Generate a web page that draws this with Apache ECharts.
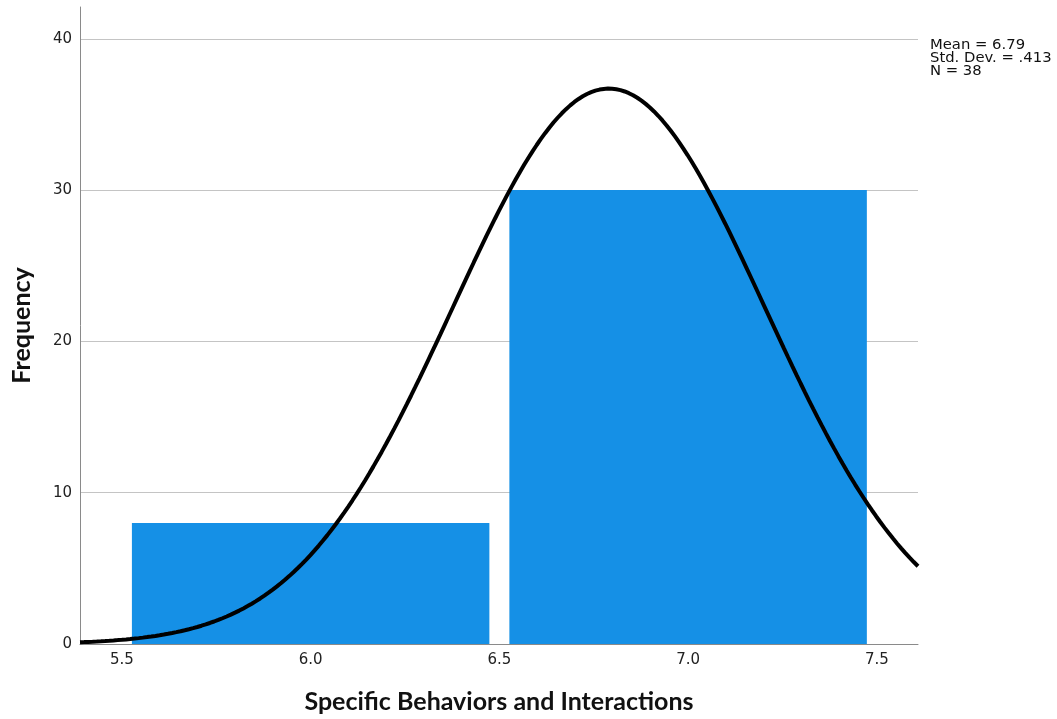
<!DOCTYPE html>
<html>
<head>
<meta charset="utf-8">
<script src="https://cdn.jsdelivr.net/npm/echarts@6/dist/echarts.min.js"></script>
<style>
  html, body { margin: 0; padding: 0; background: #fff; }
  #chart { width: 1057px; height: 719px; }
</style>
</head>
<body>
<div id="chart"></div>
<script>
// Histogram bins: [lower edge, upper edge]
const binEdges = [[5.5, 6.5], [6.5, 7.5]];
const binCounts = [8, 30];

// Summary statistics shown in the corner and used for the normal curve
const statMean = 6.79;
const statSD = 0.413;
const statN = 38;

const xTicks = [5.5, 6.0, 6.5, 7.0, 7.5];
const yTicks = [0, 10, 20, 30, 40];
const xRange = [5.389, 7.609];
const yRange = [0, 42.1];

// Fitted normal curve scaled to counts (N * bin width * density)
const binWidth = binEdges[0][1] - binEdges[0][0];
const curve = [];
const steps = 200;
for (let i = 0; i <= steps; i++) {
  const x = xRange[0] + (xRange[1] - xRange[0]) * i / steps;
  const z = (x - statMean) / statSD;
  const y = statN * binWidth * Math.exp(-0.5 * z * z) / (statSD * Math.sqrt(2 * Math.PI));
  curve.push([x, y]);
}

const barData = binEdges.map((e, i) => [e[0], e[1], binCounts[i]]);

const chart = echarts.init(document.getElementById('chart'));
const tickFont = '"DejaVu Sans", sans-serif';
const titleFont = 'Lato, "Open Sans", sans-serif';

chart.setOption({
  animation: false,
  backgroundColor: '#ffffff',
  grid: { left: 80, right: 139, top: 7, bottom: 75 },
  xAxis: {
    type: 'value',
    min: xRange[0],
    max: xRange[1],
    name: 'Specific Behaviors and Interactions',
    nameLocation: 'middle',
    nameGap: 45,
    nameTextStyle: { fontFamily: titleFont, fontWeight: 'bold', fontSize: 25, color: '#111' },
    axisLine: { show: true, lineStyle: { color: '#8a8a8a', width: 1 } },
    axisTick: { show: false },
    splitLine: { show: false },
    axisLabel: {
      customValues: xTicks,
      formatter: v => v.toFixed(1),
      fontFamily: tickFont,
      fontSize: 15,
      color: '#222',
      margin: 9
    }
  },
  yAxis: {
    type: 'value',
    min: yRange[0],
    max: yRange[1],
    interval: 10,
    name: 'Frequency',
    nameLocation: 'middle',
    nameGap: 46,
    nameRotate: 90,
    nameTextStyle: { fontFamily: titleFont, fontWeight: 'bold', fontSize: 25, color: '#111' },
    axisLine: { show: true, lineStyle: { color: '#8a8a8a', width: 1 } },
    axisTick: { show: false },
    splitLine: {
      show: true,
      showMinLine: false,
      showMaxLine: false,
      lineStyle: { color: '#c4c4c4', type: 'solid', width: 1 }
    },
    axisLabel: {
      showMaxLabel: false,
      fontFamily: tickFont,
      fontSize: 15,
      color: '#222',
      margin: 8
    }
  },
  graphic: [{
    type: 'text',
    left: 930,
    top: 38,
    style: {
      text: 'Mean = ' + statMean.toFixed(2) + '\nStd. Dev. = ' + statSD.toFixed(3).replace(/^0/, '') + '\nN = ' + statN,
      font: '14.8px "DejaVu Sans", sans-serif',
      lineHeight: 12.6,
      fill: '#111'
    }
  }],
  series: [
    {
      type: 'custom',
      z: 2,
      data: barData,
      encode: { x: [0, 1], y: 2 },
      renderItem: function (params, api) {
        const p0 = api.coord([api.value(0), api.value(2)]);
        const p1 = api.coord([api.value(1), 0]);
        const inset = 10;
        return {
          type: 'rect',
          shape: { x: p0[0] + inset, y: p0[1], width: p1[0] - p0[0] - 2 * inset, height: p1[1] - p0[1] },
          style: { fill: '#1590e6' }
        };
      }
    },
    {
      type: 'line',
      z: 3,
      data: curve,
      showSymbol: false,
      smooth: false,
      clip: true,
      lineStyle: { color: '#000', width: 4 }
    }
  ]
});
</script>
</body>
</html>
